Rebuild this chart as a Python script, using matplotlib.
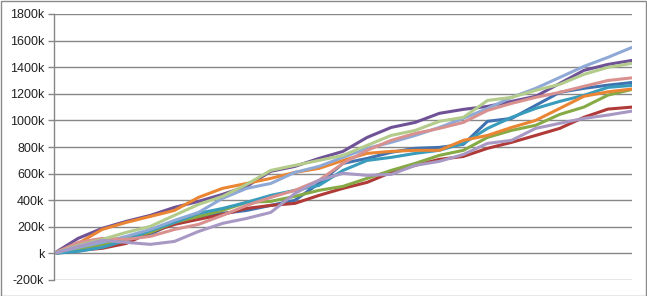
import matplotlib
matplotlib.use("Agg")
import matplotlib.pyplot as plt
from matplotlib.patches import Rectangle

steps = list(range(25))

blue = [0, 30, 68, 98, 143, 233, 278, 301, 323, 361, 399, 526, 677, 714, 760, 790, 797, 820, 993, 1015, 1113, 1211, 1241, 1265, 1285]
red = [0, 23, 38, 75, 158, 218, 256, 293, 338, 361, 376, 436, 489, 534, 609, 662, 707, 729, 790, 835, 887, 940, 1023, 1085, 1100]
green = [0, 30, 60, 113, 158, 233, 278, 323, 384, 391, 429, 474, 504, 564, 624, 677, 737, 775, 872, 925, 963, 1045, 1100, 1190, 1233]
purple = [0, 113, 188, 241, 286, 346, 391, 444, 504, 617, 654, 714, 767, 872, 947, 985, 1053, 1083, 1105, 1143, 1181, 1278, 1376, 1421, 1451]
teal = [0, 15, 45, 98, 173, 233, 301, 338, 384, 436, 474, 511, 624, 699, 722, 752, 775, 827, 940, 1023, 1090, 1143, 1188, 1248, 1263]
orange = [0, 75, 180, 233, 278, 323, 421, 489, 526, 564, 609, 639, 699, 752, 767, 775, 775, 850, 887, 947, 1000, 1090, 1181, 1215, 1236]
light_blue = [0, 45, 83, 128, 180, 248, 308, 414, 489, 526, 609, 654, 722, 790, 835, 887, 947, 1015, 1090, 1173, 1241, 1323, 1406, 1474, 1549]
pink = [0, 83, 113, 105, 128, 180, 218, 286, 361, 421, 474, 549, 677, 775, 850, 902, 940, 985, 1075, 1128, 1173, 1211, 1256, 1300, 1320]
light_green = [0, 60, 105, 158, 203, 286, 368, 429, 519, 624, 662, 699, 737, 812, 887, 925, 993, 1023, 1150, 1173, 1226, 1271, 1346, 1399, 1429]
light_purple = [0, 53, 98, 83, 68, 90, 165, 226, 263, 308, 450, 549, 602, 587, 594, 662, 692, 744, 827, 850, 940, 978, 1015, 1040, 1070]

series = [blue, red, green, purple, teal, orange, light_blue, pink, light_green, light_purple]
colors = ["#3f72b0", "#b03a38", "#86aa45", "#6f5296", "#3a9cbc", "#ea8533",
          "#8fa9d6", "#d9918f", "#b3cb8b", "#a798c4"]

yticks = list(range(-200, 1801, 200))
ytick_labels = [f"{v}k" if v != 0 else "k" for v in yticks]

fig = plt.figure(figsize=(6.47, 2.96), dpi=100)
ax = fig.add_axes([54 / 647, 1 - 280 / 296, (632 - 54) / 647, (280 - 14) / 296])

for s, c in zip(series, colors):
    ax.plot(steps, s, color=c, linewidth=2.2, solid_capstyle="round", solid_joinstyle="round")

ax.set_xlim(0, 24)
ax.set_ylim(-200, 1800)
ax.set_yticks(yticks)
ax.set_yticklabels(ytick_labels, fontfamily="Liberation Sans", fontsize=9, color="#222222")
ax.set_xticks([])
ax.grid(axis="y", color="#878787", linewidth=1.0)
ax.set_axisbelow(True)
for side in ["top", "right", "bottom"]:
    ax.spines[side].set_visible(False)
ax.spines["left"].set_color("#878787")
ax.spines["left"].set_linewidth(1.0)
ax.tick_params(axis="y", direction="out", length=4, width=1, color="#878787", pad=3)

fig.patches.append(Rectangle((0.5 / 647, 0.5 / 296), 1 - 1.5 / 647, 1 - 1.5 / 296,
                             transform=fig.transFigure, fill=False,
                             edgecolor="#8a8a8a", linewidth=1.0))

fig.savefig("out.png", dpi=100)
